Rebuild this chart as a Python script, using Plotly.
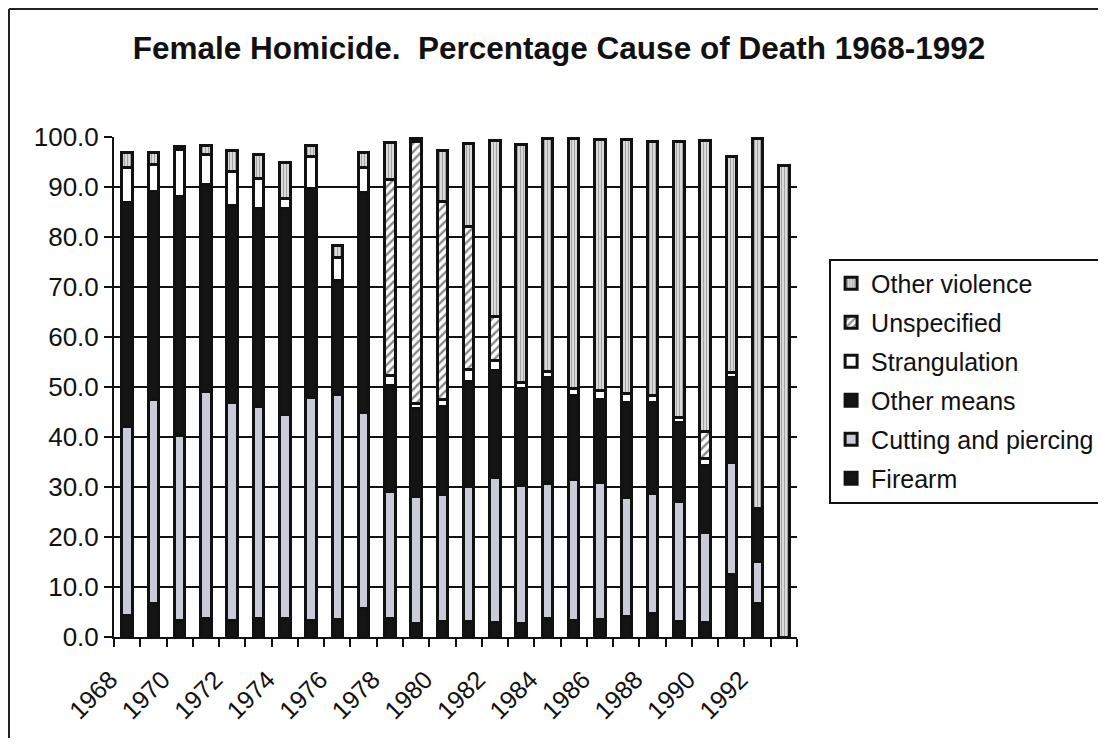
import plotly.graph_objects as go

years = [str(y) for y in range(1968, 1994)]
tick_text = [y if int(y) % 2 == 0 else "" for y in years]

firearm = [4.3, 6.7, 3.3, 3.7, 3.3, 3.7, 3.7, 3.4, 3.5, 5.7,
           3.7, 2.7, 3.1, 3.1, 2.9, 2.7, 3.7, 3.4, 3.5, 4.1,
           4.7, 3.2, 2.9, 12.6, 6.7, 0.0]
cutting = [37.8, 40.8, 37.0, 45.5, 43.6, 42.4, 40.8, 44.5, 45.1, 39.2,
           25.4, 25.4, 25.5, 27.1, 29.0, 27.7, 27.0, 28.2, 27.4, 23.8,
           24.0, 23.9, 18.0, 22.3, 8.5, 0.0]
other_means = [44.8, 41.6, 47.8, 41.3, 39.4, 39.7, 41.2, 41.8, 22.7, 44.0,
               21.3, 17.6, 17.6, 20.9, 21.5, 19.3, 21.2, 16.8, 16.6, 19.0,
               18.2, 15.8, 13.5, 17.0, 10.5, 0.0]
strangulation = [7.0, 5.4, 9.4, 6.1, 6.9, 5.9, 2.0, 6.4, 4.6, 5.0,
                 2.0, 1.0, 1.4, 2.4, 2.0, 1.2, 1.2, 1.3, 1.8, 1.8,
                 1.4, 1.0, 1.3, 1.0, 0.0, 0.0]
unspecified = [0, 0, 0, 0, 0, 0, 0, 0, 0, 0,
               39.1, 52.4, 39.5, 28.6, 8.7, 0, 0, 0, 0, 0,
               0, 0, 5.5, 0, 0, 0]
other_violence = [3.0, 2.4, 0.6, 1.7, 4.1, 4.8, 7.2, 2.2, 2.4, 3.0,
                  7.4, 0.6, 10.2, 16.6, 35.2, 47.7, 46.6, 50.0, 50.3, 50.9,
                  50.8, 55.2, 58.2, 43.2, 74.0, 94.3]

series = [
    ("Firearm", firearm, dict(color="#141414")),
    ("Cutting and piercing", cutting, dict(color="#c9cbd8")),
    ("Other means", other_means, dict(color="#141414")),
    ("Strangulation", strangulation, dict(color="white")),
    ("Unspecified", unspecified, dict(color="white",
        pattern=dict(shape="/", fgcolor="#111111", bgcolor="white", size=6, solidity=0.4))),
    ("Other violence", other_violence, dict(color="#e6e6e6",
        pattern=dict(shape="|", fgcolor="#5a5a5a", bgcolor="#ececec", size=3, solidity=0.5))),
]

fig = go.Figure()
n = len(series)
for i, (name, vals, mk) in enumerate(series):
    mk = dict(mk)
    mk["line"] = dict(color="#111111", width=3)
    fig.add_trace(go.Bar(x=years, y=vals, name=name, marker=mk,
                         legendgroup=name, legendrank=n - i))

font_family = "Liberation Sans, Arial, sans-serif"

# page has an 8px body margin; figure laid out in figure coordinates
W, H = 1090, 730
L, R, T, B = 106, 301, 129, 101
PW, PH = W - L - R, H - T - B

fig.update_layout(
    width=W, height=H,
    barmode="stack", bargap=0.6,
    paper_bgcolor="white", plot_bgcolor="white",
    margin=dict(l=L, r=R, t=T, b=B, autoexpand=False),
    font=dict(family=font_family, size=26, color="#111111"),
    title=dict(text="<b>Female Homicide.  Percentage Cause of Death 1968-1992</b>",
               x=0.5055, xanchor="center", y=0.945, yanchor="middle",
               font=dict(size=31.5, family=font_family, color="#111111")),
    legend=dict(x=1.047, xanchor="left", y=0.757, yanchor="top",
                traceorder="grouped", tracegroupgap=3.5,
                bordercolor="#111111", borderwidth=2, bgcolor="white",
                font=dict(size=25, family=font_family, color="#111111"),
                itemwidth=30),
    xaxis=dict(type="category", tickmode="array", tickvals=years, ticktext=tick_text,
               tickson="boundaries", ticks="outside", ticklen=8, tickwidth=2,
               tickcolor="#111111", tickangle=-45, showgrid=False,
               ticklabelshift=-17, ticklabelstandoff=16,
               tickfont=dict(size=25),
               showline=True, linecolor="#111111", linewidth=2,
               range=[-0.5, len(years) - 0.5]),
    yaxis=dict(range=[0, 100], dtick=10, tickformat=".1f", ticks="outside",
               ticklen=8, tickwidth=2, tickcolor="#111111",
               showgrid=True, gridcolor="#111111", gridwidth=2,
               showline=True, linecolor="#111111", linewidth=2, zeroline=False),
)

# outer frame (top and left edges of the scanned chart border)
fx0 = (1 - L) / PW
fy0 = (H - B - 1) / PH
fig.add_shape(type="line", xref="paper", yref="paper",
              x0=fx0, x1=(W - L) / PW, y0=fy0, y1=fy0,
              line=dict(color="#222222", width=2))
fig.add_shape(type="line", xref="paper", yref="paper",
              x0=fx0, x1=fx0, y0=fy0, y1=-B / PH,
              line=dict(color="#222222", width=2))

fig.write_html("out.html")
